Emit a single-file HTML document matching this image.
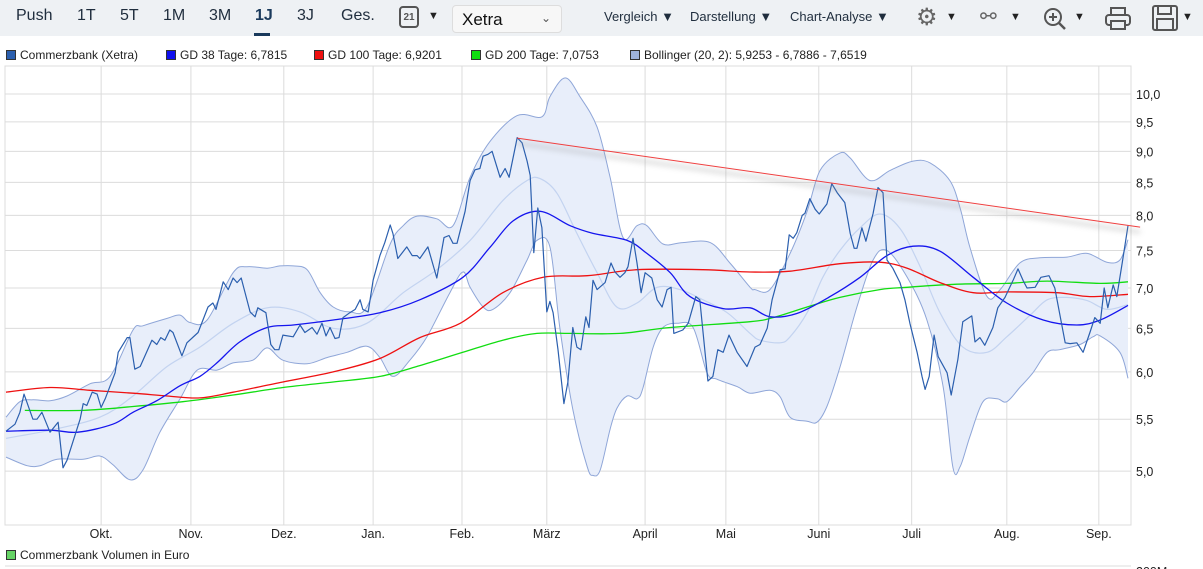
<!DOCTYPE html>
<html><head><meta charset="utf-8">
<style>
body{margin:0;width:1203px;height:569px;overflow:hidden;background:#fff;font-family:"Liberation Sans",sans-serif;position:relative}
#toolbar{position:absolute;left:0;top:0;width:1203px;height:36px;background:#eef1f4}
.tb{position:absolute;top:7px;font-size:16px;color:#1f2d3d;font-family:"Liberation Sans Narrow","Liberation Sans",sans-serif}
.menu{position:absolute;top:9px;font-size:13px;color:#1f2d3d}
.legend{position:absolute;top:48px;font-size:12px;color:#222;white-space:nowrap}
.sq{display:inline-block;width:10px;height:10px;margin-right:4px;vertical-align:-1px;box-sizing:border-box;border:1px solid #333}
svg{position:absolute;left:0;top:0}
</style></head><body>
<div id="toolbar">
  <span class="tb" style="left:16px">Push</span>
  <span class="tb" style="left:77px">1T</span>
  <span class="tb" style="left:120px">5T</span>
  <span class="tb" style="left:163px">1M</span>
  <span class="tb" style="left:209px">3M</span>
  <span class="tb" style="left:255px;font-weight:bold;color:#1a3a5c">1J</span>
  <div style="position:absolute;left:254px;top:33px;width:16px;height:3px;background:#1a3a5c"></div>
  <span class="tb" style="left:297px">3J</span>
  <span class="tb" style="left:341px">Ges.</span>
  <div style="position:absolute;left:399px;top:6px;width:20px;height:22px;border:2px solid #555;border-radius:4px;box-sizing:border-box;font-size:10px;font-weight:bold;color:#555;text-align:center;line-height:20px">21</div>
  <span style="position:absolute;left:428px;top:10px;font-size:11px;color:#222">▼</span>
  <div style="position:absolute;left:452px;top:5px;width:110px;height:28px;background:#f7f7f7;border:1px solid #ddd;border-radius:4px;box-sizing:border-box">
    <span style="position:absolute;left:9px;top:4px;font-size:17px;color:#111">Xetra</span>
    <span style="position:absolute;left:88px;top:5px;font-size:12px;color:#555">⌄</span>
  </div>
  <span class="menu" style="left:604px">Vergleich ▼</span>
  <span class="menu" style="left:690px">Darstellung ▼</span>
  <span class="menu" style="left:790px">Chart-Analyse ▼</span>
  <span style="position:absolute;left:916px;top:3px;font-size:24px;color:#666">⚙</span>
  <span style="position:absolute;left:946px;top:11px;font-size:11px;color:#222">▼</span>
  <span style="position:absolute;left:980px;top:4px;font-size:20px;color:#666">⚯</span>
  <span style="position:absolute;left:1010px;top:11px;font-size:11px;color:#222">▼</span>
  <svg style="position:absolute;left:1042px;top:6px" width="26" height="26"><circle cx="11" cy="11" r="8" fill="none" stroke="#555" stroke-width="2"/><line x1="17" y1="17" x2="23" y2="23" stroke="#555" stroke-width="2.5"/><line x1="7" y1="11" x2="15" y2="11" stroke="#555" stroke-width="2"/><line x1="11" y1="7" x2="11" y2="15" stroke="#555" stroke-width="2"/></svg>
  <span style="position:absolute;left:1074px;top:11px;font-size:11px;color:#222">▼</span>
  <svg style="position:absolute;left:1104px;top:6px" width="28" height="26"><rect x="7" y="2" width="14" height="7" fill="none" stroke="#555" stroke-width="2"/><rect x="2" y="9" width="24" height="10" rx="3" fill="none" stroke="#555" stroke-width="2"/><rect x="7" y="15" width="14" height="8" fill="#eef1f4" stroke="#555" stroke-width="2"/></svg>
  <svg style="position:absolute;left:1151px;top:4px" width="28" height="28"><rect x="2" y="2" width="24" height="24" rx="2" fill="none" stroke="#555" stroke-width="2"/><rect x="7" y="2" width="13" height="8" fill="none" stroke="#555" stroke-width="2"/><rect x="6" y="15" width="16" height="11" fill="none" stroke="#555" stroke-width="2"/></svg>
  <span style="position:absolute;left:1182px;top:11px;font-size:11px;color:#222">▼</span>
</div>

<div class="legend" style="left:6px"><span class="sq" style="background:#2b5fae"></span>Commerzbank (Xetra)</div>
<div class="legend" style="left:166px"><span class="sq" style="background:#1010ee"></span>GD 38 Tage: 6,7815</div>
<div class="legend" style="left:314px"><span class="sq" style="background:#ee1010"></span>GD 100 Tage: 6,9201</div>
<div class="legend" style="left:471px"><span class="sq" style="background:#10dd10"></span>GD 200 Tage: 7,0753</div>
<div class="legend" style="left:630px"><span class="sq" style="background:#9fb3dc"></span>Bollinger (20, 2): 5,9253 - 6,7886 - 7,6519</div>
<div class="legend" style="left:6px;top:548px"><span class="sq" style="background:#66d466"></span>Commerzbank Volumen in Euro</div>

<svg id="chart" width="1203" height="569"></svg>

<script>
const monthLabels=["Okt.","Nov.","Dez.","Jan.","Feb.","März","April","Mai","Juni","Juli","Aug.","Sep."];
const monthDays=[21.2,41.2,61.9,81.8,101.6,120.5,142.4,160.4,181.1,201.8,223.0,243.5];
const yTicks=[5.0,5.5,6.0,6.5,7.0,7.5,8.0,8.5,9.0,9.5,10.0];
const yTickLabels=["5,0","5,5","6,0","6,5","7,0","7,5","8,0","8,5","9,0","9,5","10,0"];

const priceDays=[0,2,3.1,4,6,6.9,8,9.8,11.6,12.7,13.6,16.5,17.2,18,19.2,20.3,21.2,22.1,24.3,25,27,27.6,28.7,29.9,32.5,33.6,34.5,35.4,36.5,37.2,39.2,40.3,42.8,45,46.1,46.8,48.4,49.5,50.6,51.5,52.4,54.4,55.5,56.1,57.9,59,59.9,60.8,61.7,64,65.5,66.6,68.2,69.3,70.4,71.3,72.2,73.3,74.2,75.1,76.6,77.8,78.9,79.5,80.7,81.8,83.3,84.4,85.6,86.2,87.3,89.3,90.5,91.6,92.2,94,96,97.6,98.7,99.6,100.5,102.3,103.4,104.5,105.6,106.3,107.4,108.3,110.1,111.2,112.1,113.9,115,116.1,116.8,117.6,118.5,119.4,120.5,121.2,121.9,123,124.3,125.2,126.3,127.2,128.1,129.2,129.9,130.8,131.7,133.5,134.8,135.7,136.8,137.9,138.6,139.7,140.6,141.5,142.4,143.9,145.1,146.2,147.3,148.2,148.8,150.8,152,153.7,154.6,156.4,157.5,158.6,159.8,161.1,162.9,165.1,166.9,168,169.6,170.7,172.5,173.6,174.5,175.4,176.2,177.4,178,179.1,180.3,181.2,182.9,184,185.2,186.9,188.1,189,189.6,190.7,191.6,193.2,194.3,195.4,196.3,197.6,199.2,200.3,201.4,203,204.1,204.8,205.7,206.8,207.7,209.7,210.6,212.1,213.2,215.2,215.9,217,218.1,219.9,221,222.6,224.4,225.5,226.6,227.5,229.3,230.6,232.4,233.7,236,237.1,238.6,240,241.5,242.6,243.8,244.7,245.5,246.7,247.5,248.7,250];
const priceValues=[5.38,5.45,5.57,5.76,5.50,5.50,5.57,5.37,5.47,5.03,5.10,5.50,5.66,5.64,5.78,5.76,5.62,5.71,5.99,6.22,6.39,6.39,6.03,6.06,6.36,6.31,6.39,6.36,6.48,6.45,6.18,6.33,6.45,6.76,6.81,6.73,7.08,6.98,7.13,7.07,7.13,6.70,6.64,6.75,6.69,6.31,6.25,6.25,6.42,6.40,6.54,6.45,6.51,6.43,6.56,6.41,6.51,6.38,6.39,6.63,6.69,6.73,6.85,6.73,6.70,7.10,7.43,7.61,7.86,7.74,7.39,7.55,7.43,7.43,7.39,7.55,7.13,7.68,7.71,7.60,7.60,8.06,8.53,8.70,8.72,8.92,8.95,9.00,8.58,8.72,8.58,9.23,9.14,8.84,8.61,7.47,8.11,7.82,6.70,6.83,6.69,6.25,5.66,5.89,6.51,6.28,6.25,6.64,6.51,7.10,6.98,7.07,7.33,7.21,7.14,7.20,7.28,7.67,7.33,6.94,7.20,7.13,6.85,6.76,6.98,7.01,6.44,6.48,6.56,6.89,6.85,5.90,5.95,6.25,6.22,6.42,6.22,6.06,6.28,6.31,6.50,6.85,7.24,7.25,7.72,7.67,7.75,8.00,8.03,8.25,8.09,8.02,8.17,8.48,8.34,8.19,7.74,7.53,7.53,7.82,7.63,8.03,8.42,8.34,7.37,7.26,7.07,6.85,6.56,6.22,5.95,5.81,5.95,6.42,6.17,5.99,5.75,6.14,6.58,6.65,6.34,6.39,6.30,6.51,6.75,6.88,7.10,7.25,7.10,7.00,7.01,7.14,7.16,7.00,6.33,6.32,6.33,6.22,6.45,6.63,6.56,7.00,6.75,7.04,6.89,7.33,7.85];

const gd38Days=[0,9.8,16,23.8,28.3,33.6,38.8,43.2,47,52.1,58.2,64,72.9,83.3,92.2,101.8,107.8,113,119,125.7,130.8,138.4,142.8,148,152.4,159.8,165.8,170.2,176.2,183.6,190.3,196.3,202.1,208.1,215.5,223,231.1,238.6,243.8,250];
const gd38Values=[5.38,5.39,5.37,5.45,5.57,5.69,5.85,5.95,6.10,6.34,6.51,6.54,6.60,6.69,6.85,7.14,7.54,7.92,8.06,7.85,7.74,7.64,7.46,7.20,6.89,6.74,6.75,6.64,6.68,6.89,7.14,7.43,7.56,7.49,7.14,6.81,6.60,6.54,6.60,6.78];

const gd100Days=[0,9.8,18.7,28.3,35.9,43.2,50.6,61.7,72.9,83.3,92.2,101.2,110.7,119.7,129.5,140.6,155.3,165.8,174.7,185.8,194.7,200.8,208.1,215.5,223,234.2,241.5,250];
const gd100Values=[5.78,5.83,5.80,5.77,5.74,5.72,5.78,5.89,6.00,6.15,6.39,6.56,6.94,7.14,7.16,7.24,7.24,7.21,7.22,7.32,7.34,7.26,7.07,6.94,6.95,6.94,6.89,6.92];

const gd200Days=[4.2,17.2,28.3,39.4,50.6,61.7,72.9,83.3,92.2,101.8,110.7,118.3,125.7,136.8,148,165.8,170.9,178.5,185.8,194.7,200.8,211.9,223,232,243.8,250];
const gd200Values=[5.59,5.59,5.63,5.68,5.75,5.83,5.89,5.95,6.07,6.22,6.36,6.44,6.44,6.44,6.51,6.58,6.63,6.76,6.88,6.98,7.01,7.05,7.06,7.09,7.06,7.08];

const bbUpperDays=[0,3.1,6,9.8,13.6,18.7,23.2,28.3,30.5,35.9,38.8,41,44.8,50.6,53.7,58.2,61,64,67.1,70,72.9,76.6,80.4,85.6,88.5,91.6,96,99.6,103.4,107.8,113.9,119.4,121.2,124.6,127.9,131.7,134.6,137.5,140.6,142.8,146.4,150.8,156.9,161.3,165.8,166.9,170.2,174.7,178.5,181.4,185.8,188.1,192.5,197,202.1,205.9,210.3,212.6,214.8,218.6,221.5,225.9,230.4,236.4,240.9,245.3,248.2,250];
const bbUpperValues=[5.52,5.68,5.70,5.69,5.74,5.87,5.95,6.48,6.53,6.62,6.66,6.57,6.60,7.20,7.28,7.26,7.29,7.29,7.24,6.94,6.76,6.70,6.76,7.59,7.85,7.99,7.95,7.85,8.58,9.16,9.61,9.59,9.95,10.3,9.95,9.41,8.58,7.68,7.85,7.85,7.59,7.61,7.61,7.33,7.01,6.98,6.98,7.46,8.06,8.69,8.97,8.89,8.53,8.69,8.84,8.81,8.53,8.11,7.54,6.89,6.98,7.33,7.40,7.41,7.46,7.34,7.37,7.65];

const bbLowerDays=[0,4.7,7.6,11.4,17.2,20.9,23.8,27.6,30.5,34.3,38.8,42.6,47,50.6,55,58.2,61.7,67.1,71.5,76,80.4,83.3,86.2,90,93.8,98.9,101.8,103.4,106.3,108.5,112.3,116.1,118.3,121.2,123.4,126.3,129.5,130.8,132.4,134.6,136.1,138.4,140.6,141.9,144.2,146.4,149.5,153.1,156.2,158.4,162.9,165.8,170.2,172.5,174.7,178.5,180.7,182.9,185.8,189.6,193.2,196.3,200.8,205.2,208.8,211,212.6,214.8,217.7,220.8,223,225.9,228.8,232,234.8,239.3,242.2,243.8,248.2,250];
const bbLowerValues=[5.13,5.05,5.05,5.11,5.11,5.14,5.06,4.92,5.01,5.37,5.71,6.02,6.02,6.10,6.13,6.27,6.13,6.09,6.16,6.22,6.29,6.16,5.95,6.13,6.40,6.94,7.21,7.01,6.76,6.73,6.94,7.37,7.64,7.55,6.51,5.60,5.04,4.96,5.01,5.40,5.61,5.74,5.71,5.82,6.28,6.51,6.56,6.51,5.99,5.92,5.84,5.77,5.80,5.73,5.52,5.48,5.47,5.63,6.05,6.76,7.37,7.50,7.14,6.60,5.84,5.03,5.04,5.33,5.68,5.71,5.68,5.83,5.99,6.22,6.25,6.31,6.40,6.41,6.22,5.93];

const bbMidDays=[0,9.8,20.9,28.3,35.9,43.2,50.6,58.2,65.5,72.9,80.4,88.5,96,103.4,110.7,116.1,119,122.8,127.2,131.7,136.1,140.6,145.1,150.2,155.3,160.7,165.8,168,172.5,174.7,178.5,182,185.8,190.3,194.7,199.2,203.7,208.1,213.2,218.6,223,228.2,232,236.4,240.9,245.3,250];
const bbMidValues=[5.31,5.39,5.52,5.74,6.06,6.28,6.56,6.75,6.70,6.50,6.56,6.94,7.24,7.64,8.22,8.53,8.56,8.33,7.74,7.20,6.76,6.81,7.01,6.98,6.85,6.69,6.44,6.36,6.33,6.40,6.69,7.14,7.50,7.82,8.02,7.81,7.28,6.69,6.28,6.22,6.40,6.66,6.85,6.88,6.84,6.73,6.79];

const trendDays=[113.9,252.7];
const trendValues=[9.22,7.83];

const NS="http://www.w3.org/2000/svg";
const svg=document.getElementById('chart');
const PL=6,PR=1128,PT=66,PB=525,DMAX=250;
function xOf(d){return PL+(PR-PL)*d/DMAX;}
function yOf(v){return 94+544*Math.log(10/v);}
function mk(tag,attrs){const e=document.createElementNS(NS,tag);for(const k in attrs)e.setAttribute(k,attrs[k]);svg.appendChild(e);return e;}
function xy(ds,vs){return ds.map((d,i)=>[xOf(d),yOf(vs[i])]);}
function pts(ds,vs){return xy(ds,vs).map(p=>p[0].toFixed(1)+','+p[1].toFixed(1));}
function smooth(P,start){
  let s=(start?'M':'L')+P[0][0].toFixed(1)+','+P[0][1].toFixed(1);
  for(let i=0;i<P.length-1;i++){
    const p0=P[Math.max(i-1,0)],p1=P[i],p2=P[i+1],p3=P[Math.min(i+2,P.length-1)];
    const c1=[p1[0]+(p2[0]-p0[0])/6,p1[1]+(p2[1]-p0[1])/6];
    const c2=[p2[0]-(p3[0]-p1[0])/6,p2[1]-(p3[1]-p1[1])/6];
    s+='C'+c1[0].toFixed(1)+','+c1[1].toFixed(1)+' '+c2[0].toFixed(1)+','+c2[1].toFixed(1)+' '+p2[0].toFixed(1)+','+p2[1].toFixed(1);
  }
  return s;
}

const defs=mk('defs',{});
defs.innerHTML='<filter id="blur" x="-5%" y="-200%" width="110%" height="500%"><feGaussianBlur stdDeviation="3"/></filter>';

yTicks.forEach((v,i)=>{
  const g=mk('line',{x1:5,x2:1131,y1:yOf(v),y2:yOf(v),stroke:'#dcdcdc','stroke-width':1});
  
  
  const t=mk('text',{x:1136,y:yOf(v)+5,'font-size':12.5,fill:'#222','font-family':'Liberation Sans, sans-serif'});
  t.textContent=yTickLabels[i];
  
  
});
monthDays.forEach((d,i)=>{
  const g=mk('line',{x1:xOf(d),x2:xOf(d),y1:PT,y2:PB,stroke:'#dcdcdc','stroke-width':1});
  
  
  const t=mk('text',{x:xOf(d),y:538,'font-size':12.5,fill:'#222','text-anchor':'middle','font-family':'Liberation Sans, sans-serif'});
  t.textContent=monthLabels[i];
  
  
});
const frame=mk('path',{d:'M5,'+PT+' H1131 V'+PB+' H5 Z',fill:'none',stroke:'#dcdcdc'});


const vline=mk('line',{x1:5,x2:1131,y1:566,y2:566,stroke:'#dcdcdc'});


const vt=mk('text',{x:1136,y:576,'font-size':12.5,fill:'#222'});vt.textContent='200M';



const UP=xy(bbUpperDays,bbUpperValues), LO=xy(bbLowerDays,bbLowerValues);
const LOr=LO.slice().reverse();
const band=mk('path',{d:smooth(UP,true)+smooth(LOr,false)+'Z',fill:'#e8eefa',stroke:'none'});


const bu=mk('path',{d:smooth(UP,true),fill:'none',stroke:'#8fa6d8','stroke-width':1});


const bl=mk('path',{d:smooth(LO,true),fill:'none',stroke:'#8fa6d8','stroke-width':1});


const bm=mk('path',{d:smooth(xy(bbMidDays,bbMidValues),true),fill:'none',stroke:'#c3d3f0','stroke-width':1.2});



const g200=mk('path',{d:smooth(xy(gd200Days,gd200Values),true),fill:'none',stroke:'#11dd11','stroke-width':1.3});


const g100=mk('path',{d:smooth(xy(gd100Days,gd100Values),true),fill:'none',stroke:'#ee1111','stroke-width':1.3});


const g38=mk('path',{d:smooth(xy(gd38Days,gd38Values),true),fill:'none',stroke:'#1515ee','stroke-width':1.3});



const pl=mk('polyline',{points:pts(priceDays,priceValues).join(' '),fill:'none',stroke:'#2b5fae','stroke-width':1.2,'stroke-linejoin':'round'});



const tsh=mk('line',{x1:xOf(trendDays[0]),y1:yOf(trendValues[0])+5,x2:xOf(trendDays[1]),y2:yOf(trendValues[1])+5,stroke:'#999','stroke-width':3,opacity:0.45,filter:'url(#blur)'});


const tl=mk('line',{x1:xOf(trendDays[0]),y1:yOf(trendValues[0]),x2:xOf(trendDays[1]),y2:yOf(trendValues[1]),stroke:'#f04040','stroke-width':1});


</script>
</body></html>
